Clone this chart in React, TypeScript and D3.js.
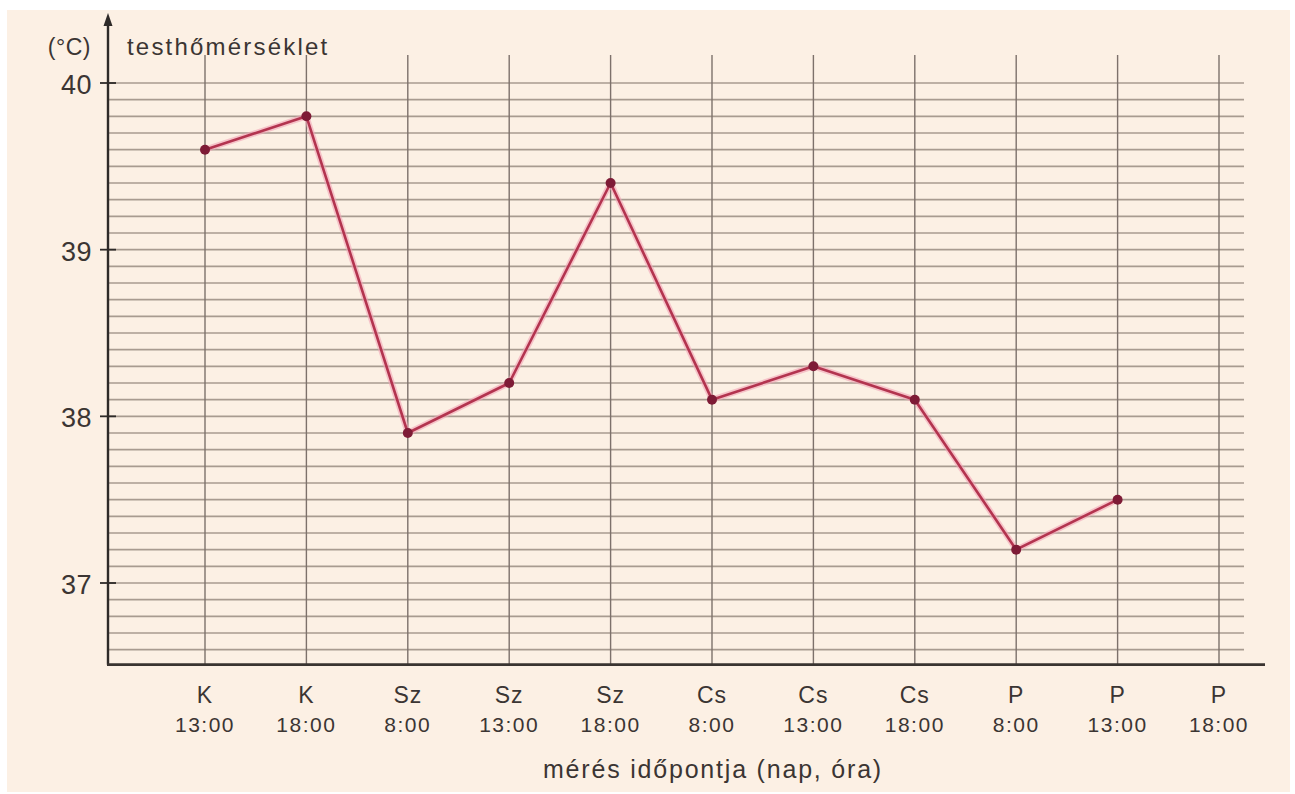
import React from "react";
import * as d3 from "d3";

const days = ["K", "K", "Sz", "Sz", "Sz", "Cs", "Cs", "Cs", "P", "P", "P"];
const hours = ["13:00", "18:00", "8:00", "13:00", "18:00", "8:00", "13:00", "18:00", "8:00", "13:00", "18:00"];
const temps = [39.6, 39.8, 37.9, 38.2, 39.4, 38.1, 38.3, 38.1, 37.2, 37.5];
const yTicks = [37, 38, 39, 40];
const yLabel = "testhőmérséklet";
const yUnit = "(°C)";
const xTitle = "mérés időpontja (nap, óra)";

const W = 1295;
const H = 794;
const font = "'Liberation Sans', Arial, sans-serif";
const ink = "#3b3533";

export default function App() {
  const x = d3.scaleLinear().domain([0, days.length - 1]).range([205, 1219]);
  const y = d3.scaleLinear().domain([37, 40]).range([583, 83]);
  const axisX = 108;
  const axisY = y(36.51);
  const minor = d3.range(366, 401).map((v) => v / 10);
  const line = d3
    .line<number>()
    .x((_, i) => x(i))
    .y((d) => y(d));
  const pathD = line(temps) || "";

  return (
    <div style={{ position: "absolute", left: 0, top: 0, width: W, height: H, background: "#fff" }}>
      <svg width={W} height={H} style={{ display: "block" }}>
        <rect x={7} y={10} width={1283} height={782} fill="#fcf0e4" />
        {/* horizontal grid */}
        {minor.map((v) => (
          <line
            key={"h" + v}
            x1={axisX}
            x2={1244}
            y1={y(v)}
            y2={y(v)}
            stroke="#a89b90"
            strokeWidth={1.7}
          />
        ))}
        {/* vertical grid */}
        {days.map((_, i) => (
          <line
            key={"v" + i}
            x1={x(i)}
            x2={x(i)}
            y1={55}
            y2={axisY}
            stroke="#7d716b"
            strokeWidth={1.4}
          />
        ))}
        {/* axes */}
        <line x1={axisX} x2={axisX} y1={24} y2={axisY} stroke="#2e2a28" strokeWidth={2.4} />
        <path d={`M${axisX - 4.5},${26} L${axisX},${13} L${axisX + 4.5},${26} Z`} fill="#2e2a28" />
        <line x1={axisX - 1} x2={1265} y1={axisY} y2={axisY} stroke="#3a3431" strokeWidth={2.6} />
        {yTicks.map((t) => (
          <g key={"t" + t}>
            <line x1={axisX - 8} x2={axisX + 8} y1={y(t)} y2={y(t)} stroke="#2e2a28" strokeWidth={1.8} />
            <text
              x={92}
              y={y(t) + 11}
              textAnchor="end"
              fontFamily={font}
              fontSize={27}
              letterSpacing={0.5}
              fill={ink}
            >
              {t}
            </text>
          </g>
        ))}
        <text x={91} y={55} textAnchor="end" fontFamily={font} fontSize={23} letterSpacing={0.5} fill={ink}>
          {yUnit}
        </text>
        <text x={127} y={55} fontFamily={font} fontSize={24} letterSpacing={2.2} fill={ink}>
          {yLabel}
        </text>
        {/* x labels */}
        {days.map((d, i) => (
          <g key={"l" + i}>
            <text
              x={x(i)}
              y={703}
              textAnchor="middle"
              fontFamily={font}
              fontSize={23}
              letterSpacing={1}
              fill={ink}
            >
              {d}
            </text>
            <text
              x={x(i)}
              y={732}
              textAnchor="middle"
              fontFamily={font}
              fontSize={21}
              letterSpacing={1.5}
              fill={ink}
            >
              {hours[i]}
            </text>
          </g>
        ))}
        <text
          x={713}
          y={778}
          textAnchor="middle"
          fontFamily={font}
          fontSize={25}
          letterSpacing={1.8}
          fill={ink}
        >
          {xTitle}
        </text>
        {/* data line */}
        <path d={pathD} fill="none" stroke="#f2a3b5" strokeWidth={6} strokeLinejoin="round" opacity={0.6} />
        <path d={pathD} fill="none" stroke="#b3344f" strokeWidth={2.6} strokeLinejoin="round" />
        {temps.map((t, i) => (
          <circle key={"c" + i} cx={x(i)} cy={y(t)} r={5} fill="#7e1b36" />
        ))}
      </svg>
    </div>
  );
}
